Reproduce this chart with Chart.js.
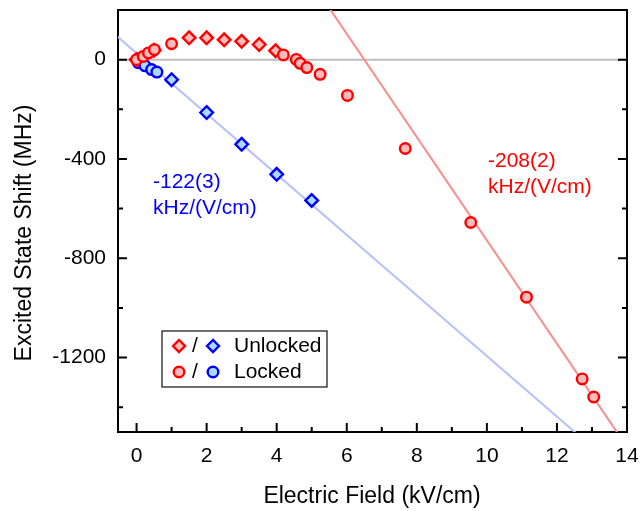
<!DOCTYPE html>
<html>
<head>
<meta charset="utf-8">
<title>Excited State Shift vs Electric Field</title>
<script src="https://cdn.jsdelivr.net/npm/chart.js@4.4.1/dist/chart.umd.min.js"></script>
<style>
  html, body { margin: 0; padding: 0; background: #fff; }
  #wrap { width: 642px; height: 511px; }
</style>
</head>
<body>
<div id="wrap"><canvas id="shiftChart" width="642" height="511"></canvas></div>
<script>
// Field in kV/cm, shift in MHz
const redLockedX = [0, 0.19, 0.34, 0.51, 1.0, 4.19, 4.56, 4.67, 4.86, 5.24, 6.02, 7.67, 9.54, 11.13, 12.72, 13.05];
const redLockedY = [0, 13, 27, 40, 64, 19, 1, -15, -32, -59, -144, -358, -656, -957, -1286, -1359];
const redUnlockedX = [0, 0.5, 1.5, 2.0, 2.5, 3.0, 3.5, 3.97];
const redUnlockedY = [0, 38, 88, 88, 80, 74, 61, 36];
const blueLockedX = [0.05, 0.24, 0.43, 0.58];
const blueLockedY = [-12, -25, -40, -50];
const blueUnlockedX = [0, 1.0, 2.0, 3.0, 4.0, 5.0];
const blueUnlockedY = [0, -81, -213, -341, -462, -567];

// linear fits, MHz per kV/cm (= kHz per V/cm)
const redSlope = -208, redIntercept = 1352;
const blueSlope = -122, blueIntercept = 26;
const redFitX = [5, 14];
const blueFitX = [-0.6, 14];

const xMajor = [0, 2, 4, 6, 8, 10, 12, 14];
const xMinor = [1, 3, 5, 7, 9, 11, 13];
const yMajor = [-1200, -800, -400, 0];
const yMinor = [-1400, -1000, -600, -200];
const X_MIN = -0.53, X_MAX = 14;
const Y_MIN = -1500, Y_MAX = 200;

const FONT = '"Liberation Sans", Arial, sans-serif';
const RED = 'rgb(255,0,0)', RED_FILL = 'rgb(255,186,186)';
const BLUE = 'rgb(0,0,255)', BLUE_FILL = 'rgb(170,218,255)';

function pts(xs, ys) { return xs.map((x, i) => ({ x, y: ys[i] })); }

function markerSet(label, xs, ys, style, stroke, fill) {
  return {
    label, data: pts(xs, ys), pointStyle: style,
    pointRadius: style === 'circle' ? 5.3 : 6.3, pointBorderWidth: 2.4,
    borderColor: stroke, backgroundColor: fill, showLine: false, order: 0
  };
}

function fitSet(xs, slope, b, color) {
  return {
    data: xs.map(x => ({ x, y: b + slope * x })), showLine: true,
    borderColor: color, borderWidth: 2, pointRadius: 0, clip: 0, order: 10
  };
}

// fixed axis box sizes, no extra room for overhanging labels
function fixSize(w, h) {
  return s => {
    if (w !== null) s.width = w;
    if (h !== null) s.height = h;
    s.paddingLeft = s.paddingRight = s.paddingTop = s.paddingBottom = 0;
  };
}

// drawn after datasets: inward ticks, annotations, legend box, axis titles
const decorations = {
  id: 'decorations',
  afterDraw(chart) {
    const { ctx, chartArea: a, scales: { x, y } } = chart;
    ctx.save();
    ctx.strokeStyle = '#000'; ctx.lineWidth = 2;
    ctx.beginPath();
    const tick = (vals, len) => {
      for (const v of vals) { const px = x.getPixelForValue(v); ctx.moveTo(px, a.bottom); ctx.lineTo(px, a.bottom - len); }
    };
    const ytick = (vals, len) => {
      for (const v of vals) {
        const py = y.getPixelForValue(v);
        ctx.moveTo(a.left, py); ctx.lineTo(a.left + len, py);
        ctx.moveTo(a.right, py); ctx.lineTo(a.right - len, py);
      }
    };
    tick(xMajor, 9); tick(xMinor, 5); ytick(yMajor, 9); ytick(yMinor, 5);
    ctx.stroke();

    // slope labels
    ctx.font = '21px ' + FONT; ctx.textAlign = 'left'; ctx.textBaseline = 'alphabetic';
    ctx.fillStyle = BLUE;
    ctx.fillText('-122(3)', 153, 188); ctx.fillText('kHz/(V/cm)', 153, 214);
    ctx.fillStyle = RED;
    ctx.fillText('-208(2)', 488, 167); ctx.fillText('kHz/(V/cm)', 488, 193);

    // legend
    ctx.lineWidth = 1.3; ctx.strokeStyle = '#222';
    ctx.strokeRect(162, 331, 165, 56);
    const mark = (style, cx, cy, stroke, fill) => {
      ctx.beginPath();
      if (style === 'circle') ctx.arc(cx, cy, 5.3, 0, Math.PI * 2);
      else { ctx.moveTo(cx - 6, cy); ctx.lineTo(cx, cy - 6); ctx.lineTo(cx + 6, cy); ctx.lineTo(cx, cy + 6); ctx.closePath(); }
      ctx.fillStyle = fill; ctx.fill();
      ctx.lineWidth = 2.4; ctx.strokeStyle = stroke; ctx.stroke();
    };
    mark('rectRot', 179, 346, RED, RED_FILL); mark('rectRot', 213, 346, BLUE, BLUE_FILL);
    mark('circle', 179, 372, RED, RED_FILL); mark('circle', 213, 372, BLUE, BLUE_FILL);
    ctx.fillStyle = '#000'; ctx.font = '21px ' + FONT; ctx.textBaseline = 'middle';
    ctx.fillText('/', 192, 346); ctx.fillText('/', 192, 372);
    ctx.fillText('Unlocked', 234, 346); ctx.fillText('Locked', 234, 372);

    // axis titles
    ctx.font = '23px ' + FONT; ctx.textAlign = 'center';
    ctx.fillText('Electric Field (kV/cm)', 372, 497);
    ctx.translate(25, 233); ctx.rotate(-Math.PI / 2);
    ctx.fillText('Excited State Shift (MHz)', 0, 0);
    ctx.restore();
  }
};

const frame = { display: true, color: '#000', width: 2 };
const noGrid = { display: false, drawTicks: false };
const tickFont = { family: FONT, size: 21 };

new Chart(document.getElementById('shiftChart'), {
  type: 'scatter',
  data: {
    datasets: [
      markerSet('Locked (red)', redLockedX, redLockedY, 'circle', RED, RED_FILL),
      markerSet('Unlocked (red)', redUnlockedX, redUnlockedY, 'rectRot', RED, RED_FILL),
      markerSet('Locked (blue)', blueLockedX, blueLockedY, 'circle', BLUE, BLUE_FILL),
      markerSet('Unlocked (blue)', blueUnlockedX, blueUnlockedY, 'rectRot', BLUE, BLUE_FILL),
      fitSet(redFitX, redSlope, redIntercept, 'rgb(250,140,140)'),
      fitSet(blueFitX, blueSlope, blueIntercept, 'rgb(182,192,250)'),
      { data: pts([X_MIN, X_MAX], [0, 0]), showLine: true, borderColor: 'rgb(190,190,190)', borderWidth: 2, pointRadius: 0, order: 20 }
    ]
  },
  options: {
    responsive: false, animation: false,
    layout: { padding: 0, autoPadding: false },
    plugins: { legend: { display: false }, tooltip: { enabled: false } },
    scales: {
      x: {
        type: 'linear', position: 'bottom', min: X_MIN, max: X_MAX,
        afterBuildTicks: s => { s.ticks = xMajor.map(v => ({ value: v })); },
        afterFit: fixSize(null, 79),
        grid: noGrid, border: frame,
        ticks: { color: '#000', font: tickFont, padding: 12, maxRotation: 0, autoSkip: false, callback: v => String(v) }
      },
      xTop: {
        type: 'linear', position: 'top', min: X_MIN, max: X_MAX,
        afterFit: fixSize(null, 10),
        grid: noGrid, border: frame, ticks: { display: false }
      },
      y: {
        type: 'linear', position: 'left', min: Y_MIN, max: Y_MAX,
        afterBuildTicks: s => { s.ticks = yMajor.map(v => ({ value: v })); },
        afterFit: fixSize(118, null),
        grid: noGrid, border: frame,
        ticks: { color: '#000', font: tickFont, padding: 12, autoSkip: false, callback: v => String(v) }
      },
      yRight: {
        type: 'linear', position: 'right', min: Y_MIN, max: Y_MAX,
        afterFit: fixSize(15, null),
        grid: noGrid, border: frame, ticks: { display: false }
      }
    }
  },
  plugins: [decorations]
});
</script>
</body>
</html>
